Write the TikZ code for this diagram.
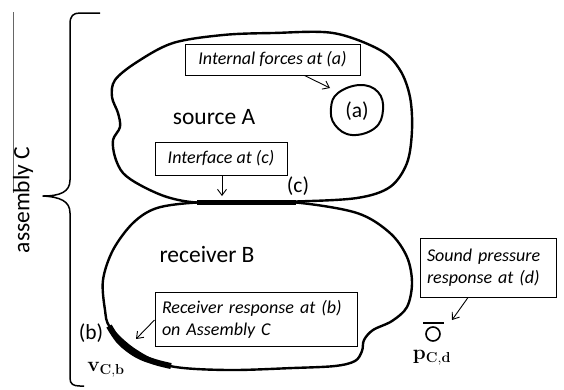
\documentclass[tikz,border=0pt]{standalone}
\usepackage[no-math]{fontspec}
\setmainfont{Carlito}
\usetikzlibrary{arrows.meta}
\tikzset{
  blob/.style={line width=2.4pt, line join=round},
  contact/.style={line width=5pt, line cap=butt},
  callout/.style={draw, line width=1pt, font=\fontsize{18}{22}\selectfont\itshape,
    inner xsep=6pt, inner ysep=3pt},
  pointer/.style={line width=0.9pt, -{Straight Barb[length=6pt,width=9pt]}},
  biglabel/.style={font=\fontsize{23.5}{28}\selectfont},
  mark label/.style={font=\fontsize{21.5}{26}\selectfont},
  quantity/.style={font=\fontsize{21}{25}\selectfont},
}
\begin{document}
\begin{tikzpicture}[x=1pt, y=-1pt]
\useasboundingbox (0,0) rectangle (564,389);

% side rule and assembly label
\draw[line width=0.9pt, black!60] (13,12) -- (13,193);
\node[biglabel, rotate=90] (asm) at (23,200) {assembly C};

% brace spanning source and receiver
\draw[line width=1.5pt, line join=round]
  (100,13) -- (80,13) .. controls (73,13) and (70,16) .. (70,24)
  -- (70,180) .. controls (70,192) and (60,196) .. (43,196)
  .. controls (60,197) and (70,201) .. (70,213)
  -- (70,378) .. controls (70,384) and (73,386) .. (80,386) -- (84,386);

% source A
\draw[blob] plot[smooth cycle, tension=0.55] coordinates {
  (137,62) (173,43) (223,35) (273,33) (333,33) (380,50) (400,70) (410,97)
  (412,130) (407,163) (390,187) (357,198) (296,201.5) (246,202) (197,202.5)
  (167,197) (140,185) (123,173) (115,157) (113,140) (120,127) (118,113)
  (112,97) (115,80)};

% receiver B
\draw[blob] plot[smooth cycle, tension=0.55] coordinates {
  (197,202.5) (246,202.5) (296,202.5) (357,213) (390,233) (407,257) (412,283)
  (407,307) (392,321) (373,330) (364,340) (362,351) (355,361) (335,366)
  (293,368) (227,370) (170,366) (135,350) (110,327) (105,310) (103,280)
  (113,250) (133,223) (157,208)};

% interface (c) and response patch (b)
\draw[contact] (197,202) -- (296,202);
\draw[line width=6pt, line cap=butt] plot[smooth, tension=0.6] coordinates {
  (109,326) (120,342) (137,355) (155,362) (171,366)};

% internal force region (a)
\draw[blob, line width=2pt] plot[smooth cycle, tension=0.7] coordinates {
  (338,93) (360,85) (378,92) (383,110) (375,128) (352,135) (335,125) (331,108)};
\node[mark label] (a) at (357,111) {(a)};

% labels
\node[biglabel] (srcA) at (214,117) {source A};
\node[biglabel] (recB) at (207,254) {receiver B};
\node[mark label] (c) at (298,186) {(c)};
\node[mark label] (b) at (91,333) {(b)};
\node[quantity] (vcb) at (106,370) {$\mathbf{v}_{\mathbf{C,b}}$};
\node[quantity] (pcd) at (432,358) {$\mathbf{p}_{\mathbf{C,d}}$};

% microphone at (d)
\draw[line width=1.6pt] (433,334) circle (7);
\draw[line width=1.6pt] (423,323) -- (444,323);
\coordinate (mic) at (452,320);

% callouts
\node[callout, minimum width=175pt, minimum height=31pt] (ifa) at (272.5,59.5) {Internal forces at (a)};
\node[callout, minimum width=132pt, minimum height=33pt] (ifc) at (221,158.5) {Interface at (c)};
\node[callout, minimum width=202pt, minimum height=54pt, align=left, text width=188pt] (rrb) at (256,319)
  {Receiver response at (b)\\on Assembly C};
\node[callout, minimum width=136pt, minimum height=59pt, align=left, text width=122pt] (spd) at (488,267.5)
  {Sound pressure\\response at (d)};

% pointers
\coordinate (tipa) at (330,88);
\coordinate (tipc) at (222,196);
\coordinate (tipb) at (136,339);
\draw[pointer] ([xshift=32pt]ifa.south) -- (tipa);
\draw[pointer] ([xshift=1pt]ifc.south) -- (tipc);
\draw[pointer] ([yshift=-1pt]rrb.west) -- (tipb);
\draw[pointer] ([xshift=-20pt]spd.south) -- (mic);
\end{tikzpicture}
\end{document}
